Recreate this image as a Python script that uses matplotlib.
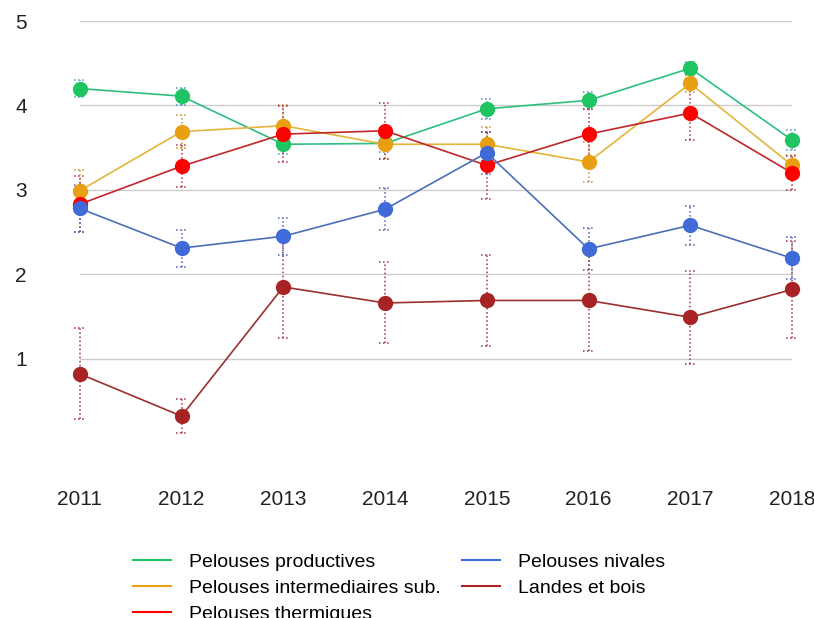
# courbes des indices par groupe de vegetation, 2011-2018
import matplotlib.pyplot as plt
from matplotlib.lines import Line2D

plt.rcParams["font.family"] = ["Liberation Sans", "DejaVu Sans"]

years = [2011, 2012, 2013, 2014, 2015, 2016, 2017, 2018]

names = ["Pelouses productives", "Pelouses intermediaires sub.", "Pelouses thermiques",
         "Pelouses nivales", "Landes et bois"]

productives = [4.20, 4.11, 3.54, 3.55, 3.96, 4.06, 4.44, 3.59]
intermediaires = [2.99, 3.69, 3.76, 3.54, 3.54, 3.33, 4.26, 3.29]
thermiques = [2.83, 3.28, 3.66, 3.70, 3.29, 3.66, 3.91, 3.20]
nivales = [2.78, 2.31, 2.45, 2.77, 3.44, 2.30, 2.58, 2.19]
landes = [0.82, 0.32, 1.85, 1.66, 1.69, 1.69, 1.49, 1.82]

err_productives = [0.10, 0.10, 0.12, 0.10, 0.12, 0.10, 0.08, 0.12]
err_intermediaires = [0.25, 0.20, 0.25, 0.17, 0.20, 0.24, 0.10, 0.12]
err_thermiques = [0.33, 0.25, 0.33, 0.33, 0.40, 0.30, 0.32, 0.20]
err_nivales = [0.28, 0.22, 0.22, 0.25, 0.25, 0.25, 0.23, 0.25]
err_landes = [0.54, 0.20, 0.60, 0.48, 0.54, 0.60, 0.55, 0.57]

values = [productives, intermediaires, thermiques, nivales, landes]
errors = [err_productives, err_intermediaires, err_thermiques, err_nivales, err_landes]
marker_colors = ["#1fc463", "#e8a012", "#ff0000", "#3f6ad8", "#a82424"]
line_colors = ["#2ebf80", "#e3b53a", "#c0262a", "#4a6fb8", "#9a3030"]
err_colors = ["#4a90b0", "#c89030", "#b03040", "#5060b0", "#a03040"]

fig = plt.figure(figsize=(8.14, 6.18), dpi=100)
ax = fig.add_axes([0.098, 0.283, 0.875, 0.683])

# ordre de dessin : landes derriere, productives devant
for i in [4, 3, 2, 1, 0]:
    v = values[i]
    e = errors[i]
    low = [a - b for a, b in zip(v, e)]
    high = [a + b for a, b in zip(v, e)]
    ax.vlines(years, low, high, colors=err_colors[i], linestyles=":", linewidth=1.1,
              zorder=2 + i * 0.1, clip_on=False)
    for y in (low, high):
        ax.hlines(y, [x - 0.055 for x in years], [x + 0.055 for x in years],
                  colors=err_colors[i], linestyles=":", linewidth=1.1,
                  zorder=2 + i * 0.1, clip_on=False)
    ax.plot(years, v, "-", color=line_colors[i], linewidth=1.2, zorder=3 + i * 0.1)
    ax.plot(years, v, "o", color=marker_colors[i], markersize=11, markeredgewidth=0,
            zorder=4 + i * 0.1, clip_on=False)

ax.set_xlim(2011, 2018)
ax.set_ylim(0, 5)
ax.set_xticks(years)
ax.set_xticklabels([str(y) for y in years])
ax.set_yticks([1, 2, 3, 4, 5])
ax.set_yticklabels(["1", "2", "3", "4", "5"])
ax.tick_params(axis="both", length=0, labelsize=15, colors="#222222")
ax.tick_params(axis="y", pad=38)
ax.tick_params(axis="x", pad=34)
ax.grid(axis="y", color="#cccccc", linewidth=1)
ax.set_axisbelow(True)
for s in ax.spines.values():
    s.set_visible(False)

handles = [Line2D([0], [0], color=c, linewidth=1.5) for c in marker_colors]
fig.legend(handles, names, loc="upper left", bbox_to_anchor=(0.151, 0.120), ncol=2,
           frameon=False, fontsize=14, handlelength=1.96, handletextpad=0.93,
           labelspacing=0.43, columnspacing=1.1, borderpad=0)

fig.savefig("out.png", dpi=100)
